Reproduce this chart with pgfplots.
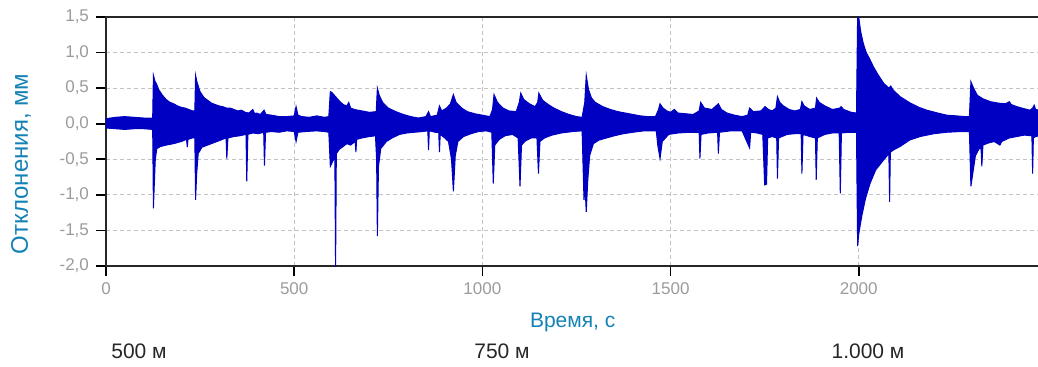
\documentclass[border=0pt]{standalone}
\usepackage{fontspec}
\setmainfont{Liberation Sans}
\usepackage{pgfplots}
\usepackage{pgfplotstable}
\pgfplotsset{compat=1.18}

\definecolor{sig}{RGB}{0,0,195}
\definecolor{labelblue}{RGB}{20,130,180}
\definecolor{ticktext}{RGB}{155,155,155}
\definecolor{gridgray}{RGB}{195,195,195}

% upper envelope of the deflection record
\pgfplotstableread{
t v
0 0.07
25 0.09
50 0.10
75 0.09
100 0.08
124 0.08
126 0.68
130 0.60
135 0.55
140 0.48
150 0.40
160 0.34
170 0.30
180 0.28
190 0.25
200 0.23
210 0.22
220 0.20
230 0.18
236 0.18
238 0.68
242 0.58
250 0.45
260 0.37
270 0.33
280 0.29
290 0.27
300 0.25
310 0.24
320 0.22
330 0.22
340 0.20
350 0.18
360 0.19
370 0.16
380 0.15
390 0.20
395 0.14
400 0.15
410 0.13
420 0.19
425 0.13
440 0.12
460 0.10
480 0.10
500 0.11
505 0.24
510 0.12
520 0.10
540 0.09
560 0.11
580 0.09
592 0.10
596 0.45
600 0.44
610 0.38
620 0.32
630 0.27
640 0.25
645 0.30
650 0.22
660 0.20
680 0.18
700 0.16
718 0.17
721 0.50
726 0.40
735 0.30
750 0.22
770 0.17
790 0.13
810 0.10
830 0.08
850 0.10
857 0.17
862 0.10
880 0.12
886 0.25
892 0.18
905 0.22
915 0.28
923 0.41
930 0.30
945 0.22
960 0.17
980 0.14
1000 0.12
1020 0.10
1027 0.20
1031 0.41
1040 0.30
1055 0.22
1070 0.18
1090 0.17
1098 0.30
1102 0.43
1110 0.34
1125 0.28
1140 0.24
1147 0.30
1150 0.43
1160 0.33
1175 0.27
1190 0.22
1210 0.17
1230 0.13
1250 0.10
1265 0.09
1272 0.30
1276 0.68
1282 0.48
1290 0.36
1300 0.30
1320 0.24
1340 0.20
1360 0.17
1380 0.15
1400 0.13
1420 0.11
1440 0.10
1460 0.10
1468 0.20
1472 0.28
1480 0.22
1490 0.18
1500 0.16
1510 0.20
1520 0.15
1540 0.14
1560 0.13
1576 0.18
1580 0.30
1590 0.22
1610 0.20
1627 0.28
1635 0.20
1650 0.15
1670 0.12
1690 0.10
1705 0.12
1710 0.22
1720 0.17
1740 0.18
1751 0.24
1760 0.20
1770 0.18
1780 0.22
1784 0.38
1790 0.30
1800 0.25
1815 0.20
1830 0.18
1845 0.20
1849 0.31
1855 0.25
1870 0.20
1885 0.22
1888 0.36
1895 0.30
1910 0.25
1930 0.20
1950 0.22
1953 0.24
1960 0.20
1980 0.16
1994 0.15
1997 1.52
2000 1.50
2005 1.30
2012 1.13
2020 1.00
2030 0.90
2039 0.80
2050 0.70
2066 0.57
2080 0.50
2085 0.53
2092 0.47
2110 0.38
2137 0.29
2160 0.23
2181 0.19
2210 0.15
2234 0.12
2260 0.11
2283 0.10
2294 0.10
2298 0.59
2305 0.50
2315 0.40
2330 0.35
2350 0.31
2370 0.29
2390 0.28
2400 0.31
2405 0.27
2420 0.24
2440 0.21
2455 0.19
2462 0.22
2466 0.26
2470 0.20
2480 0.19
}\upperenv

% lower envelope of the deflection record
\pgfplotstableread{
t v
0 -0.06
25 -0.07
50 -0.08
75 -0.07
100 -0.07
124 -0.08
126 -1.19
128 -0.90
131 -0.50
135 -0.35
145 -0.32
160 -0.30
180 -0.28
200 -0.25
214 -0.22
216 -0.33
218 -0.22
230 -0.20
236 -0.20
238 -1.07
241 -0.70
245 -0.42
255 -0.33
270 -0.30
285 -0.27
300 -0.24
319 -0.20
321 -0.49
324 -0.20
340 -0.18
355 -0.17
372 -0.15
374 -0.81
377 -0.15
390 -0.13
405 -0.14
419 -0.12
421 -0.59
424 -0.12
440 -0.11
460 -0.12
480 -0.10
500 -0.11
505 -0.25
510 -0.12
530 -0.11
560 -0.10
580 -0.11
592 -0.12
596 -0.60
605 -0.50
608 -0.45
610 -2.05
612 -0.42
620 -0.36
630 -0.32
640 -0.28
650 -0.30
662 -0.25
664 -0.40
666 -0.22
680 -0.20
700 -0.18
716 -0.17
719 -0.50
721 -1.58
724 -0.60
730 -0.35
745 -0.25
760 -0.20
780 -0.15
800 -0.13
820 -0.12
840 -0.11
855 -0.10
857 -0.37
859 -0.10
875 -0.12
884 -0.12
886 -0.40
888 -0.15
900 -0.20
910 -0.25
918 -0.50
923 -0.95
928 -0.45
935 -0.25
950 -0.18
970 -0.14
990 -0.11
1010 -0.10
1025 -0.12
1029 -0.84
1033 -0.30
1045 -0.22
1060 -0.17
1080 -0.15
1095 -0.20
1100 -0.88
1104 -0.30
1115 -0.24
1130 -0.20
1145 -0.20
1149 -0.70
1153 -0.25
1165 -0.20
1185 -0.16
1210 -0.13
1240 -0.11
1265 -0.10
1270 -1.07
1273 -0.90
1276 -1.24
1280 -0.80
1285 -0.45
1295 -0.28
1310 -0.23
1330 -0.20
1350 -0.17
1375 -0.14
1400 -0.12
1430 -0.10
1462 -0.10
1466 -0.30
1472 -0.49
1478 -0.25
1495 -0.15
1520 -0.13
1550 -0.12
1576 -0.12
1578 -0.49
1581 -0.15
1600 -0.13
1625 -0.12
1627 -0.42
1630 -0.12
1660 -0.10
1690 -0.10
1710 -0.34
1713 -0.12
1730 -0.13
1745 -0.15
1750 -0.86
1755 -0.85
1758 -0.20
1770 -0.18
1782 -0.20
1784 -0.77
1787 -0.20
1810 -0.15
1830 -0.14
1847 -0.14
1849 -0.70
1852 -0.15
1870 -0.18
1885 -0.20
1887 -0.79
1890 -0.20
1910 -0.15
1930 -0.13
1948 -0.13
1951 -0.98
1954 -0.13
1975 -0.12
1994 -0.12
1997 -1.72
2000 -1.55
2008 -1.30
2018 -1.05
2030 -0.84
2045 -0.65
2066 -0.51
2080 -0.42
2082 -1.10
2084 -0.40
2095 -0.36
2110 -0.32
2135 -0.23
2163 -0.18
2200 -0.14
2234 -0.12
2270 -0.11
2294 -0.11
2298 -0.88
2303 -0.70
2310 -0.45
2320 -0.35
2325 -0.35
2327 -0.60
2330 -0.30
2345 -0.27
2360 -0.25
2375 -0.30
2380 -0.25
2400 -0.20
2420 -0.18
2440 -0.16
2460 -0.17
2462 -0.70
2464 -0.20
2470 -0.18
2480 -0.17
}\lowerenv

\begin{document}
\begin{tikzpicture}
\begin{axis}[
  at={(0,0)}, anchor=south west,
  scale only axis,
  width=466.7pt, height=124.5pt,
  xmin=0, xmax=2480, ymin=-2, ymax=1.5,
  xtick={0,500,1000,1500,2000},
  ytick={-2,-1.5,-1,-0.5,0,0.5,1,1.5},
  xtick pos=lower, ytick pos=left,
  tick align=outside, major tick length=5pt,
  tick style={black, line width=0.8pt},
  axis line style={black!85, line width=0.9pt},
  grid=major,
  major grid style={gridgray, line width=0.5pt, dash pattern=on 2pt off 1.5pt},
  /pgf/number format/assume math mode=true,
  ticklabel style={font=\fontsize{8.5}{10}\selectfont, text=ticktext},
  y tick label style={/pgf/number format/.cd, fixed, fixed zerofill, precision=1, use comma},
  x tick label style={/pgf/number format/.cd, fixed, precision=0, 1000 sep={}},
  xlabel={Время, с},
  ylabel={Отклонения, мм},
  xlabel style={font=\fontsize{10.5}{12}\selectfont, text=labelblue,
    at={(axis description cs:0.5,-0.225)}, anchor=center},
  ylabel style={font=\fontsize{12}{14}\selectfont, text=labelblue,
    at={(axis description cs:-0.0911,0.41)}, anchor=center},
]
% positive and negative halves of the oscillation band
\addplot[sig, fill=sig, line width=0.5pt] table[x=t, y=v] {\upperenv} \closedcycle;
\addplot[sig, fill=sig, line width=0.5pt] table[x=t, y=v] {\lowerenv} \closedcycle;
% centre of the band, where both halves meet
\addplot[sig, line width=1.2pt] coordinates {(0,0) (2480,0)};
\end{axis}
% distance markers under the time axis
\begin{scope}[font=\fontsize{10.5}{12.5}\selectfont, text=black!85]
\node at (16.5pt,-42.75pt) {500 м};
\node at (198pt,-42.75pt) {750 м};
\node at (381pt,-42.75pt) {1.000 м};
\end{scope}
\pgfresetboundingbox
\path[use as bounding box] (-53pt,-50pt) rectangle (466pt,133pt);
\end{tikzpicture}
\end{document}
